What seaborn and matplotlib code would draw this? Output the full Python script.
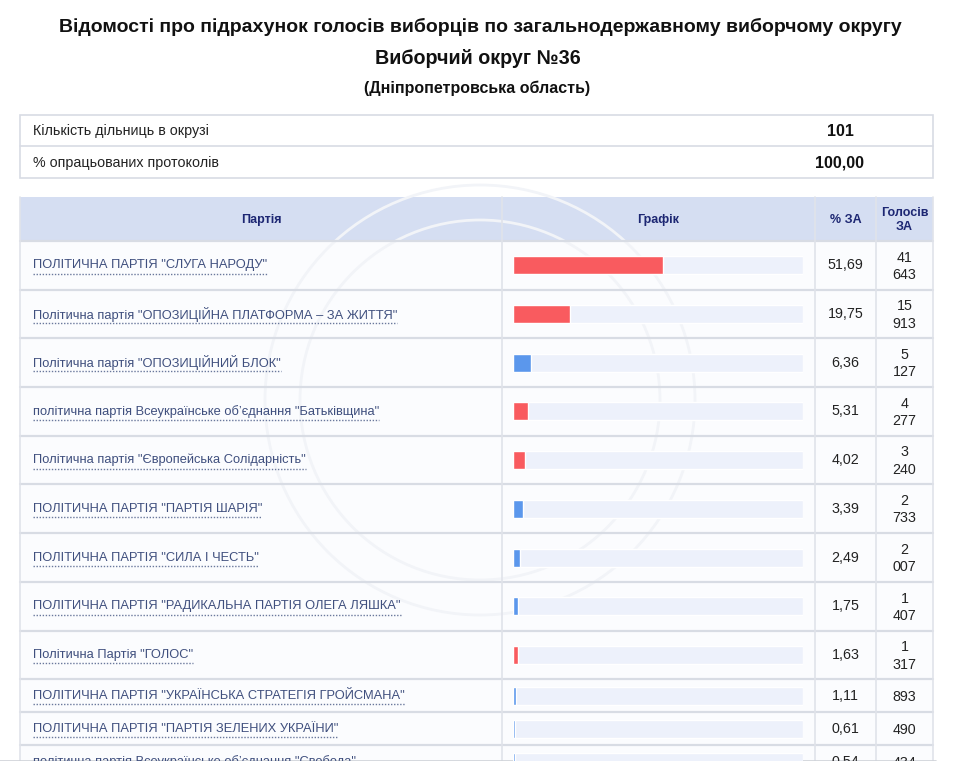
import pandas as pd
import matplotlib.pyplot as plt
import seaborn as sns

# ---- data ----
title_lines = [
    "Відомості про підрахунок голосів виборців по загальнодержавному виборчому округу",
    "Виборчий округ №36",
    "(Дніпропетровська область)",
]
info_labels = ["Кількість дільниць в окрузі", "% опрацьованих протоколів"]
info_values = ["101", "100,00"]
headers = ["Партія", "Графік", "% ЗА", "Голосів\nЗА"]

parties = [
    'ПОЛІТИЧНА ПАРТІЯ "СЛУГА НАРОДУ"',
    'Політична партія "ОПОЗИЦІЙНА ПЛАТФОРМА – ЗА ЖИТТЯ"',
    'Політична партія "ОПОЗИЦІЙНИЙ БЛОК"',
    'політична партія Всеукраїнське об’єднання "Батьківщина"',
    'Політична партія "Європейська Солідарність"',
    'ПОЛІТИЧНА ПАРТІЯ "ПАРТІЯ ШАРІЯ"',
    'ПОЛІТИЧНА ПАРТІЯ "СИЛА І ЧЕСТЬ"',
    'ПОЛІТИЧНА ПАРТІЯ "РАДИКАЛЬНА ПАРТІЯ ОЛЕГА ЛЯШКА"',
    'Політична Партія "ГОЛОС"',
    'ПОЛІТИЧНА ПАРТІЯ "УКРАЇНСЬКА СТРАТЕГІЯ ГРОЙСМАНА"',
    'ПОЛІТИЧНА ПАРТІЯ "ПАРТІЯ ЗЕЛЕНИХ УКРАЇНИ"',
    'політична партія Всеукраїнське об’єднання "Свобода"',
]
pct = [51.69, 19.75, 6.36, 5.31, 4.02, 3.39, 2.49, 1.75, 1.63, 1.11, 0.61, 0.54]
votes = ["41\n643", "15\n913", "5\n127", "4\n277", "3\n240", "2\n733",
         "2\n007", "1\n407", "1\n317", "893", "490", "434"]
bloc = ["red", "red", "blue", "red", "red", "blue",
        "blue", "blue", "red", "blue", "blue", "blue"]

# ---- layout (pixels) ----
W, H = 960, 772
left, right = 20, 933
col_x = [20, 502, 815, 876, 933]
head_top, head_bot = 197, 241
row_h = [48.7] * 9 + [33] * 3
bottom_cut = 760.5

tops = [head_bot]
for h in row_h[:-1]:
    tops.append(tops[-1] + h)
centers = [t + h / 2 for t, h in zip(tops, row_h)]

sns.set_theme(style="white")
plt.rcParams['font.family'] = ['Liberation Sans', 'DejaVu Sans']

fig = plt.figure(figsize=(W / 100, H / 100), dpi=100)
page = fig.add_axes([0, 0, 1, 1])
page.set_xlim(0, W)
page.set_ylim(H, 0)
page.axis('off')

navy = "#1d2773"
grid = "#d8dce4"
link = "#3f4f7e"

# titles
page.text(480, 27, title_lines[0], ha='center', va='center', fontsize=14, fontweight='bold', color='#111')
page.text(478, 58, title_lines[1], ha='center', va='center', fontsize=14.2, fontweight='bold', color='#111')
page.text(477, 88, title_lines[2], ha='center', va='center', fontsize=11.5, fontweight='bold', color='#111')

# info table
page.add_patch(plt.Rectangle((left, 115), right - left, 63, fc='white', ec=grid, lw=1.2))
page.plot([left, right], [146, 146], color=grid, lw=1.2)
for i, (lab, val) in enumerate(zip(info_labels, info_values)):
    y = 131 + i * 31.5
    page.text(33, y, lab, ha='left', va='center', fontsize=10.3, color='#222')
    page.text(840, y, val, ha='center', va='center', fontsize=11.5, fontweight='bold', color='#111')

# main table background + header
page.add_patch(plt.Rectangle((left, head_bot), right - left, bottom_cut - head_bot, fc='#fbfcfe', ec='none'))
page.add_patch(plt.Rectangle((left, head_top), right - left, head_bot - head_top, fc='#d5def2', ec='none'))
for i, hd in enumerate(headers):
    cx = (col_x[i] + col_x[i + 1]) / 2
    page.text(cx, (head_top + head_bot) / 2 + 1, hd, ha='center', va='center', fontsize=9,
              fontweight='bold', color=navy, linespacing=1.2)

# faint emblem watermark behind the rows
for r in (215, 180):
    page.add_patch(plt.Circle((480, 400), r, fc='none', ec='#f2f4f8', lw=2))

# grid lines
for t in tops:
    page.plot([left, right], [t, t], color=grid, lw=1.6)
for x in col_x:
    page.plot([x, x], [head_top, bottom_cut], color='#e0e3ea', lw=1.2)
page.plot([0, 936], [bottom_cut, bottom_cut], color='#cfd2d8', lw=1.2)
page.add_patch(plt.Rectangle((0, bottom_cut + 0.6), W, H - bottom_cut, fc='white', ec='none', zorder=5))

# row texts
name_txt = []
for c, name, p, v in zip(centers, parties, pct, votes):
    name_txt.append(page.text(33, c, name, ha='left', va='center', fontsize=9.3, color=link))
    page.text(845.5, c, f"{p:.2f}".replace('.', ','), ha='center', va='center', fontsize=10.3, color='#222')
    page.text(904.5, c + 1, v, ha='center', va='center', fontsize=10.3, color='#222', linespacing=1.3)

# dotted underline under party names
fig.canvas.draw()
inv = page.transData.inverted()
for t, c in zip(name_txt, centers):
    bb = t.get_window_extent()
    (x0, _), (x1, _) = inv.transform([(bb.x0, bb.y0), (bb.x1, bb.y0)])
    page.plot([x0, x1], [c + 8.5, c + 8.5], color='#6a789c', lw=1, ls=(0, (1, 1.2)))

# bars (0-100 %) inside the Графік column
bx0, bx1 = 513, 803
bar_ax = fig.add_axes([bx0 / W, 1 - bottom_cut / H, (bx1 - bx0) / W, (bottom_cut - head_bot) / H])
df = pd.DataFrame({"party": parties, "pct": pct, "bloc": bloc, "y": centers, "full": [100] * len(pct)})
sns.barplot(data=df, x="full", y="y", orient='h', native_scale=True, width=18 / 33,
            color="#edf1fb", saturation=1, ax=bar_ax)
sns.barplot(data=df, x="pct", y="y", hue="bloc", orient='h', native_scale=True, width=18 / 33,
            palette={"red": "#f95b5f", "blue": "#5b97ec"}, saturation=1, dodge=False,
            legend=False, ax=bar_ax)
bar_ax.set_xlim(0, 100)
bar_ax.set_ylim(bottom_cut, head_bot)
bar_ax.axis('off')

fig.savefig("out.png", dpi=100)
